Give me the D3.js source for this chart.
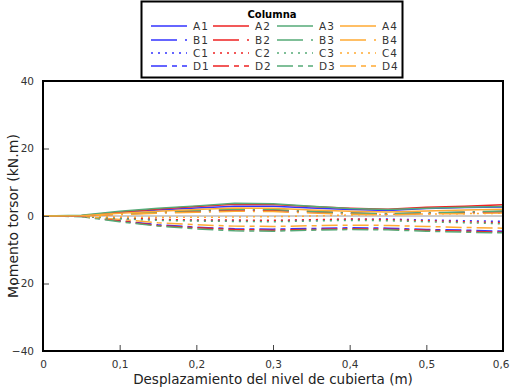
<!DOCTYPE html>
<html>
<head>
<meta charset="utf-8">
<script src="https://cdn.jsdelivr.net/npm/d3@7"></script>
<style>
  body { margin: 0; background: #fff; }
  svg { font-family: "DejaVu Sans", sans-serif; }
</style>
</head>
<body>
<div id="chart"></div>
<script>
const width = 510;
const height = 387;
const margin = { top: 81, right: 7, bottom: 36, left: 43 };

// Desplazamiento (m)
const xValues = [0, 0.05, 0.1, 0.15, 0.2, 0.25, 0.3, 0.35, 0.4, 0.45, 0.5, 0.55, 0.6];

const rows = ["A", "B", "C", "D"];
const cols = ["1", "2", "3", "4"];
const colors = ["#3333ff", "#ee2222", "#55aa77", "#ffaa33"];
const dashes = [null, "26,8,2,8", "2,5", "16,5,5,5"];

// Momento torsor (kN.m) per series
const A1 = [0, 0.1, 1.0, 1.8, 2.4, 2.9, 2.9, 2.4, 1.9, 1.6, 2.2, 2.5, 2.7];
const A2 = [0, 0.1, 1.2, 2.1, 2.8, 3.5, 3.4, 2.8, 2.3, 2.0, 2.6, 2.9, 3.3];
const A3 = [0, 0.2, 1.4, 2.3, 3.0, 3.8, 3.6, 2.9, 2.2, 1.9, 2.3, 2.6, 2.8];
const A4 = [0, 0.1, 0.8, 1.4, 1.9, 2.4, 2.3, 1.8, 1.4, 1.2, 1.5, 1.8, 2.0];
const B1 = [0, 0.05, 0.5, 1.0, 1.4, 1.7, 1.6, 1.2, 0.8, 0.6, 0.9, 1.0, 1.2];
const B2 = [0, 0.05, 0.6, 1.1, 1.5, 1.8, 1.7, 1.3, 0.9, 0.5, 0.8, 1.1, 1.3];
const B3 = [0, 0.1, 0.7, 1.2, 1.6, 2.0, 1.9, 1.4, 0.9, 0.7, 1.0, 1.2, 1.5];
const B4 = [0, 0.05, 0.4, 0.8, 1.1, 1.4, 1.3, 0.9, 0.5, 0.3, 0.6, 0.7, 0.9];
const C1 = [0, -0.1, -0.7, -1.1, -1.3, -1.4, -1.4, -1.2, -1.0, -0.9, -1.2, -1.4, -1.6];
const C2 = [0, -0.1, -0.6, -1.0, -1.2, -1.2, -1.3, -1.1, -0.9, -1.1, -1.4, -1.7, -2.0];
const C3 = [0, -0.1, -0.8, -1.3, -1.5, -1.6, -1.7, -1.5, -1.3, -1.4, -1.7, -2.0, -2.3];
const C4 = [0, 0.0, -0.3, -0.4, -0.4, -0.3, -0.2, 0.0, 0.3, 0.5, 0.6, 0.7, 0.8];
const D1 = [0, -0.1, -1.4, -2.6, -3.3, -3.8, -3.9, -3.7, -3.5, -3.6, -4.0, -4.2, -4.5];
const D2 = [0, -0.1, -1.5, -2.8, -3.5, -4.0, -4.2, -4.0, -3.8, -3.9, -4.2, -4.5, -4.8];
const D3 = [0, -0.2, -1.7, -3.0, -3.8, -4.4, -4.5, -4.2, -4.0, -4.1, -4.5, -4.8, -5.0];
const D4 = [0, -0.1, -1.0, -2.0, -2.6, -3.0, -3.1, -2.9, -2.7, -2.8, -3.1, -3.4, -3.6];

const seriesValues = { A1, A2, A3, A4, B1, B2, B3, B4, C1, C2, C3, C4, D1, D2, D3, D4 };

const xTicks = [0, 0.1, 0.2, 0.3, 0.4, 0.5, 0.6];
const yTicks = [-40, -20, 0, 20, 40];

const series = [];
rows.forEach((r, ri) => cols.forEach((c, ci) => {
  series.push({ name: r + c, color: colors[ci], dash: dashes[ri], values: seriesValues[r + c] });
}));

const svg = d3.select("#chart").append("svg")
  .attr("width", width)
  .attr("height", height);

const x = d3.scaleLinear().domain([0, 0.6]).range([margin.left, width - margin.right]);
const y = d3.scaleLinear().domain([-40, 40]).range([height - margin.bottom, margin.top]);

const fmt = d => d3.format("~g")(d).replace(".", ",");

// zero line
svg.append("line")
  .attr("x1", x(0)).attr("x2", x(0.6))
  .attr("y1", y(0)).attr("y2", y(0))
  .attr("stroke", "#999").attr("stroke-width", 1);

const line = d3.line()
  .x((d, i) => x(xValues[i]))
  .y(d => y(d));

// draw dash-dot groups first, solid last
const order = [3, 2, 1, 0];
order.forEach(ri => {
  series.filter((s, i) => Math.floor(i / 4) === ri).forEach(s => {
    svg.append("path")
      .attr("d", line(s.values))
      .attr("fill", "none")
      .attr("stroke", s.color)
      .attr("stroke-width", 1.5)
      .attr("stroke-dasharray", s.dash);
  });
});

// ticks (inward)
const xAxis = d3.axisBottom(x).tickValues(xTicks).tickSize(-6).tickPadding(10).tickFormat(fmt);
const yAxis = d3.axisLeft(y).tickValues(yTicks).tickSize(-6).tickPadding(9).tickFormat(fmt);

svg.append("g")
  .attr("transform", `translate(0,${y(-40)})`)
  .call(xAxis)
  .call(g => g.select(".domain").remove())
  .call(g => g.selectAll("line").attr("stroke", "#444"))
  .call(g => g.selectAll("text").attr("font-size", 10.5).attr("fill", "#333").attr("font-family", "DejaVu Sans"))
  // last label sits against the window edge
  .call(g => g.selectAll(".tick").filter(d => d === 0.6).select("text")
    .attr("text-anchor", "end").attr("x", 6));

svg.append("g")
  .attr("transform", `translate(${x(0)},0)`)
  .call(yAxis)
  .call(g => g.select(".domain").remove())
  .call(g => g.selectAll("line").attr("stroke", "#444"))
  .call(g => g.selectAll("text").attr("font-size", 10.5).attr("fill", "#333").attr("font-family", "DejaVu Sans"));

// frame
svg.append("rect")
  .attr("x", x(0)).attr("y", y(40))
  .attr("width", x(0.6) - x(0))
  .attr("height", y(-40) - y(40))
  .attr("fill", "none")
  .attr("stroke", "#000")
  .attr("stroke-width", 2);

// axis labels
svg.append("text")
  .attr("x", (x(0) + x(0.6)) / 2)
  .attr("y", 384)
  .attr("text-anchor", "middle")
  .attr("font-size", 13.5)
  .attr("fill", "#222")
  .text("Desplazamiento del nivel de cubierta (m)");

svg.append("text")
  .attr("transform", `translate(18,${y(0)}) rotate(-90)`)
  .attr("text-anchor", "middle")
  .attr("font-size", 14)
  .attr("fill", "#222")
  .text("Momento torsor (kN.m)");

// legend
const legend = svg.append("g");
legend.append("rect")
  .attr("x", 141.5).attr("y", 1.5)
  .attr("width", 261).attr("height", 76)
  .attr("fill", "#fff")
  .attr("stroke", "#000")
  .attr("stroke-width", 2);

legend.append("text")
  .attr("x", 272).attr("y", 18)
  .attr("text-anchor", "middle")
  .attr("font-size", 10)
  .attr("font-weight", "bold")
  .text("Columna");

const colX = [151, 213, 277, 340];
const rowY = [26, 40, 53, 66];
series.forEach((s, i) => {
  const ri = Math.floor(i / 4), ci = i % 4;
  legend.append("line")
    .attr("x1", colX[ci]).attr("x2", colX[ci] + 36)
    .attr("y1", rowY[ri]).attr("y2", rowY[ri])
    .attr("stroke", s.color)
    .attr("stroke-width", 1.5)
    .attr("stroke-dasharray", s.dash);
  legend.append("text")
    .attr("x", colX[ci] + 42).attr("y", rowY[ri] + 4)
    .attr("font-size", 10.5)
    .attr("fill", "#333")
    .attr("letter-spacing", 1)
    .text(s.name);
});
</script>
</body>
</html>
